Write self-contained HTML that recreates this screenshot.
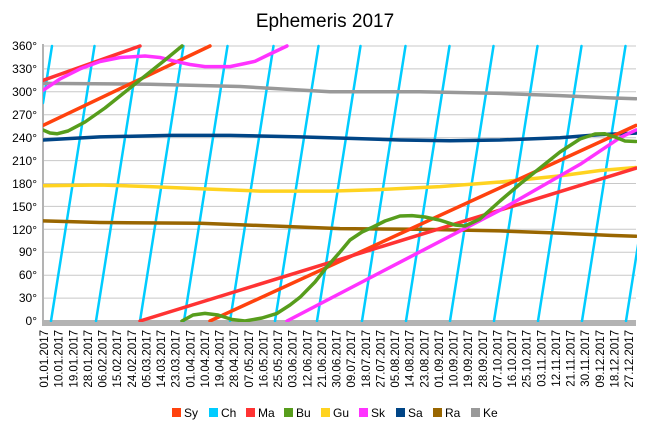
<!DOCTYPE html>
<html><head><meta charset="utf-8"><style>
body{margin:0;background:#fff;}
svg{display:block;font-family:"Liberation Sans",sans-serif;}
</style></head><body>
<svg width="650" height="430" viewBox="0 0 650 430" xmlns="http://www.w3.org/2000/svg">
<rect width="650" height="430" fill="#fff"/>
<text x="325" y="27" font-size="19" text-anchor="middle" fill="#000">Ephemeris 2017</text>
<g stroke="#c8c8c8" stroke-width="1">
<line x1="43" y1="46" x2="636" y2="46"/><line x1="43" y1="68.9" x2="636" y2="68.9"/>
<line x1="43" y1="91.8" x2="636" y2="91.8"/><line x1="43" y1="114.8" x2="636" y2="114.8"/>
<line x1="43" y1="137.7" x2="636" y2="137.7"/><line x1="43" y1="160.6" x2="636" y2="160.6"/>
<line x1="43" y1="183.5" x2="636" y2="183.5"/><line x1="43" y1="206.4" x2="636" y2="206.4"/>
<line x1="43" y1="229.3" x2="636" y2="229.3"/><line x1="43" y1="252.3" x2="636" y2="252.3"/>
<line x1="43" y1="275.2" x2="636" y2="275.2"/><line x1="43" y1="298.1" x2="636" y2="298.1"/>
</g>
<line x1="43" y1="44" x2="43" y2="326" stroke="#b3b3b3" stroke-width="2"/>
<rect x="43" y="320" width="593" height="6" fill="#b3b3b3"/>
<g font-size="12" fill="#000" text-anchor="end">
<text x="37" y="50">360°</text><text x="37" y="73">330°</text><text x="37" y="96">300°</text>
<text x="37" y="119">270°</text><text x="37" y="142">240°</text><text x="37" y="165">210°</text>
<text x="37" y="188">180°</text><text x="37" y="211">150°</text><text x="37" y="234">120°</text>
<text x="37" y="256">90°</text><text x="37" y="279">60°</text><text x="37" y="302">30°</text>
<text x="37" y="325">0°</text>
</g>
<defs><clipPath id="c"><rect x="43" y="44" width="594" height="278"/></clipPath></defs>
<g clip-path="url(#c)" fill="none" stroke-linejoin="round" stroke-linecap="round" stroke-width="3.5">
<g stroke="#00ccff" stroke-width="2.5">
<line x1="43" y1="103" x2="52" y2="46"/>
<line x1="51" y1="321" x2="94.5" y2="46"/><line x1="96" y1="321" x2="139.5" y2="46"/>
<line x1="140" y1="321" x2="183.5" y2="46"/><line x1="184" y1="321" x2="227.5" y2="46"/>
<line x1="230" y1="321" x2="273.5" y2="46"/><line x1="275" y1="321" x2="318.5" y2="46"/>
<line x1="317" y1="321" x2="360.5" y2="46"/><line x1="362" y1="321" x2="405.5" y2="46"/>
<line x1="406" y1="321" x2="449.5" y2="46"/><line x1="450" y1="321" x2="493.5" y2="46"/>
<line x1="494" y1="321" x2="537.5" y2="46"/><line x1="538" y1="321" x2="581.5" y2="46"/>
<line x1="582" y1="321" x2="625.5" y2="46"/><line x1="626" y1="321" x2="669.5" y2="46"/>
</g>
<polyline stroke="#999999" points="43,83.4 150,84.2 240,86.5 330,91.8 420,91.8 500,93.4 560,95.6 610,97.9 636,98.7"/>
<polyline stroke="#996600" points="43,220.9 100,222.5 200,223.2 280,226.3 340,228.6 420,229.3 500,230.9 560,233.1 610,235.4 636,236.2"/>
<polyline stroke="#ffd320" points="43,185.8 100,185 150,186.6 200,188.8 260,191.1 330,191.1 380,189.6 440,186.6 500,182 560,175.9 600,170.5 636,167.5"/>
<polyline stroke="#004586" points="43,140 100,136.9 170,135.4 230,135.4 300,136.9 350,138.4 400,140 450,140.7 500,140 560,137.7 600,134.6 636,133.1"/>
<polyline stroke="#ff420e" points="43,125.4 210,46"/>
<polyline stroke="#ff420e" points="210,321 636,125.4"/>
<polyline stroke="#ff3333" points="43,80.4 140,46"/>
<polyline stroke="#ff3333" points="140,321 636,168.2"/>
<polyline stroke="#ff33ff" points="43,90.3 60,79 80,68.9 100,61.5 120,57.5 145,56 160,57.5 175,61.3 190,64.5 205,66.6 230,66.6 245,63.5 255,61.3 270,54 287,46"/>
<polyline stroke="#ff33ff" points="287,321 400,262.2 500,210.2 580,164.4 620,137.7 636,130"/>
<polyline stroke="#579d1c" points="43,130 50,133 57,133.8 68,131 85,122 105,108 125,92 145,76 165,60 182,46"/>
<polyline stroke="#579d1c" points="182,321 193,315 205,313.4 218,315 232,319.5 245,321 262,318 277,313.4 290,305 300,297.3 315,282 327,266.8 340,252 350,240 362,232 373,227 385,221 400,216 412,215.6 425,217 440,220.2 455,225 465,226 480,219 500,201 520,184 540,168 560,152 580,139 595,134 605,133.8 615,137 625,141 636,141.5"/>
</g>
<g font-size="11.5" fill="#000" text-anchor="end">
<text transform="translate(48,330) rotate(-90)">01.01.2017</text>
<text transform="translate(62.6,330) rotate(-90)">10.01.2017</text>
<text transform="translate(77.3,330) rotate(-90)">19.01.2017</text>
<text transform="translate(91.9,330) rotate(-90)">28.01.2017</text>
<text transform="translate(106.5,330) rotate(-90)">06.02.2017</text>
<text transform="translate(121.1,330) rotate(-90)">15.02.2017</text>
<text transform="translate(135.8,330) rotate(-90)">24.02.2017</text>
<text transform="translate(150.4,330) rotate(-90)">05.03.2017</text>
<text transform="translate(165,330) rotate(-90)">14.03.2017</text>
<text transform="translate(179.6,330) rotate(-90)">23.03.2017</text>
<text transform="translate(194.3,330) rotate(-90)">01.04.2017</text>
<text transform="translate(208.9,330) rotate(-90)">10.04.2017</text>
<text transform="translate(223.5,330) rotate(-90)">19.04.2017</text>
<text transform="translate(238.1,330) rotate(-90)">28.04.2017</text>
<text transform="translate(252.8,330) rotate(-90)">07.05.2017</text>
<text transform="translate(267.4,330) rotate(-90)">16.05.2017</text>
<text transform="translate(282,330) rotate(-90)">25.05.2017</text>
<text transform="translate(296.6,330) rotate(-90)">03.06.2017</text>
<text transform="translate(311.3,330) rotate(-90)">12.06.2017</text>
<text transform="translate(325.9,330) rotate(-90)">21.06.2017</text>
<text transform="translate(340.5,330) rotate(-90)">30.06.2017</text>
<text transform="translate(355.1,330) rotate(-90)">09.07.2017</text>
<text transform="translate(369.8,330) rotate(-90)">18.07.2017</text>
<text transform="translate(384.4,330) rotate(-90)">27.07.2017</text>
<text transform="translate(399,330) rotate(-90)">05.08.2017</text>
<text transform="translate(413.6,330) rotate(-90)">14.08.2017</text>
<text transform="translate(428.3,330) rotate(-90)">23.08.2017</text>
<text transform="translate(442.9,330) rotate(-90)">01.09.2017</text>
<text transform="translate(457.5,330) rotate(-90)">10.09.2017</text>
<text transform="translate(472.1,330) rotate(-90)">19.09.2017</text>
<text transform="translate(486.8,330) rotate(-90)">28.09.2017</text>
<text transform="translate(501.4,330) rotate(-90)">07.10.2017</text>
<text transform="translate(516,330) rotate(-90)">16.10.2017</text>
<text transform="translate(530.6,330) rotate(-90)">25.10.2017</text>
<text transform="translate(545.3,330) rotate(-90)">03.11.2017</text>
<text transform="translate(559.9,330) rotate(-90)">12.11.2017</text>
<text transform="translate(574.5,330) rotate(-90)">21.11.2017</text>
<text transform="translate(589.1,330) rotate(-90)">30.11.2017</text>
<text transform="translate(603.8,330) rotate(-90)">09.12.2017</text>
<text transform="translate(618.4,330) rotate(-90)">18.12.2017</text>
<text transform="translate(633,330) rotate(-90)">27.12.2017</text>
</g>
<g font-size="12" fill="#000">
<rect x="172" y="408" width="9" height="9" fill="#ff420e"/><text x="184" y="417">Sy</text>
<rect x="209" y="408" width="9" height="9" fill="#00ccff"/><text x="221" y="417">Ch</text>
<rect x="246" y="408" width="9" height="9" fill="#ff3333"/><text x="258" y="417">Ma</text>
<rect x="284" y="408" width="9" height="9" fill="#579d1c"/><text x="296" y="417">Bu</text>
<rect x="321" y="408" width="9" height="9" fill="#ffd320"/><text x="333" y="417">Gu</text>
<rect x="359" y="408" width="9" height="9" fill="#ff33ff"/><text x="371" y="417">Sk</text>
<rect x="396" y="408" width="9" height="9" fill="#004586"/><text x="408" y="417">Sa</text>
<rect x="433" y="408" width="9" height="9" fill="#996600"/><text x="445" y="417">Ra</text>
<rect x="471" y="408" width="9" height="9" fill="#999999"/><text x="483" y="417">Ke</text>
</g>
</svg>
</body></html>
